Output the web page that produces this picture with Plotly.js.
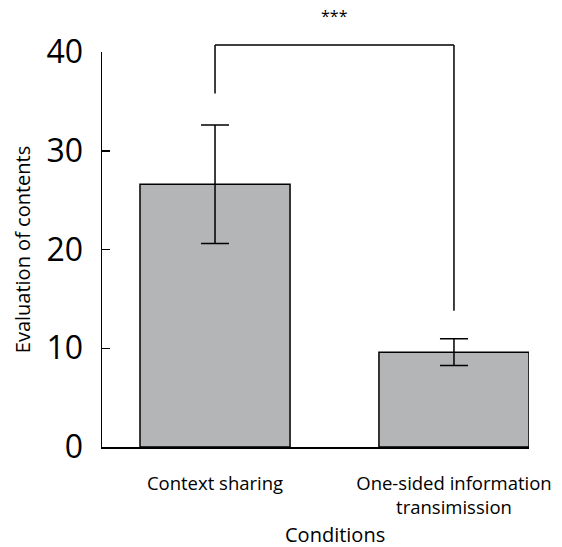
<!DOCTYPE html>
<html><head><meta charset="utf-8">
<script src="https://cdn.plot.ly/plotly-3.0.1.min.js"></script>
<style>html,body{margin:0;padding:0;background:#fff}#chart{width:562px;height:547px}</style>
</head><body><div id="chart"></div>
<script>
const categories = ["Context sharing", "One-sided information<br>transimission"];
const means = [26.6, 9.6];
const errors = [6.0, 1.35];
const bracketX = [0, 0, 1, 1];
const bracketY = [35.8, 40.7, 40.7, 13.8];
const sigLabel = "***";
const yTicks = [0, 10, 20, 30, 40];
const yMax = 40;

const font = "Open Sans, Noto Sans, sans-serif";

const shapes = [];
for (let i = 0; i < bracketX.length - 1; i++) {
  shapes.push({type: "line", xref: "x", yref: "paper",
    x0: bracketX[i], x1: bracketX[i + 1], y0: bracketY[i] / yMax, y1: bracketY[i + 1] / yMax,
    line: {color: "#000", width: 1.5}});
}

const data = [
  {type: "bar", x: categories, y: means, width: 0.628,
   marker: {color: "#b4b5b7", line: {color: "#000", width: 1.5}},
   error_y: {type: "data", array: errors, visible: true, color: "#000", thickness: 1.5, width: 14},
   hoverinfo: "skip"}
];

const layout = {
  width: 562, height: 547,
  margin: {l: 102, r: 33, t: 52, b: 100},
  paper_bgcolor: "#fff", plot_bgcolor: "#fff",
  showlegend: false,
  font: {family: font, color: "#000"},
  xaxis: {type: "category", range: [-0.473, 1.314], showline: true, linecolor: "#000", linewidth: 1.5,
          ticks: "", showgrid: false, zeroline: false, tickfont: {size: 18.5, family: font, color: "#000"},
          ticklabelstandoff: 19},
  yaxis: {range: [0, yMax], tickvals: yTicks, showline: true, linecolor: "#000", linewidth: 1.5,
          ticks: "inside", ticklen: 8, tickwidth: 1.5, tickcolor: "#000", showgrid: false, zeroline: false,
          tickfont: {size: 32, family: font, color: "#000"}, ticklabelstandoff: 11,
          title: {text: "Evaluation of contents", font: {size: 20, family: font, color: "#000"}, standoff: 10}},
  shapes: shapes,
  annotations: [
    {text: sigLabel, xref: "x", yref: "paper", x: (bracketX[0] + bracketX[3]) / 2, y: 1 + (52 - 16) / 395,
     showarrow: false, font: {size: 16, family: font, color: "#000"}, xanchor: "center", yanchor: "middle"},
    {text: "Conditions", xref: "paper", yref: "paper", x: (335 - 102) / 427, y: -(534 - 447) / 395,
     showarrow: false, font: {size: 20, family: font, color: "#000"}, xanchor: "center", yanchor: "middle"}
  ]
};
Plotly.newPlot("chart", data, layout, {displayModeBar: false, staticPlot: true});
</script></body></html>
